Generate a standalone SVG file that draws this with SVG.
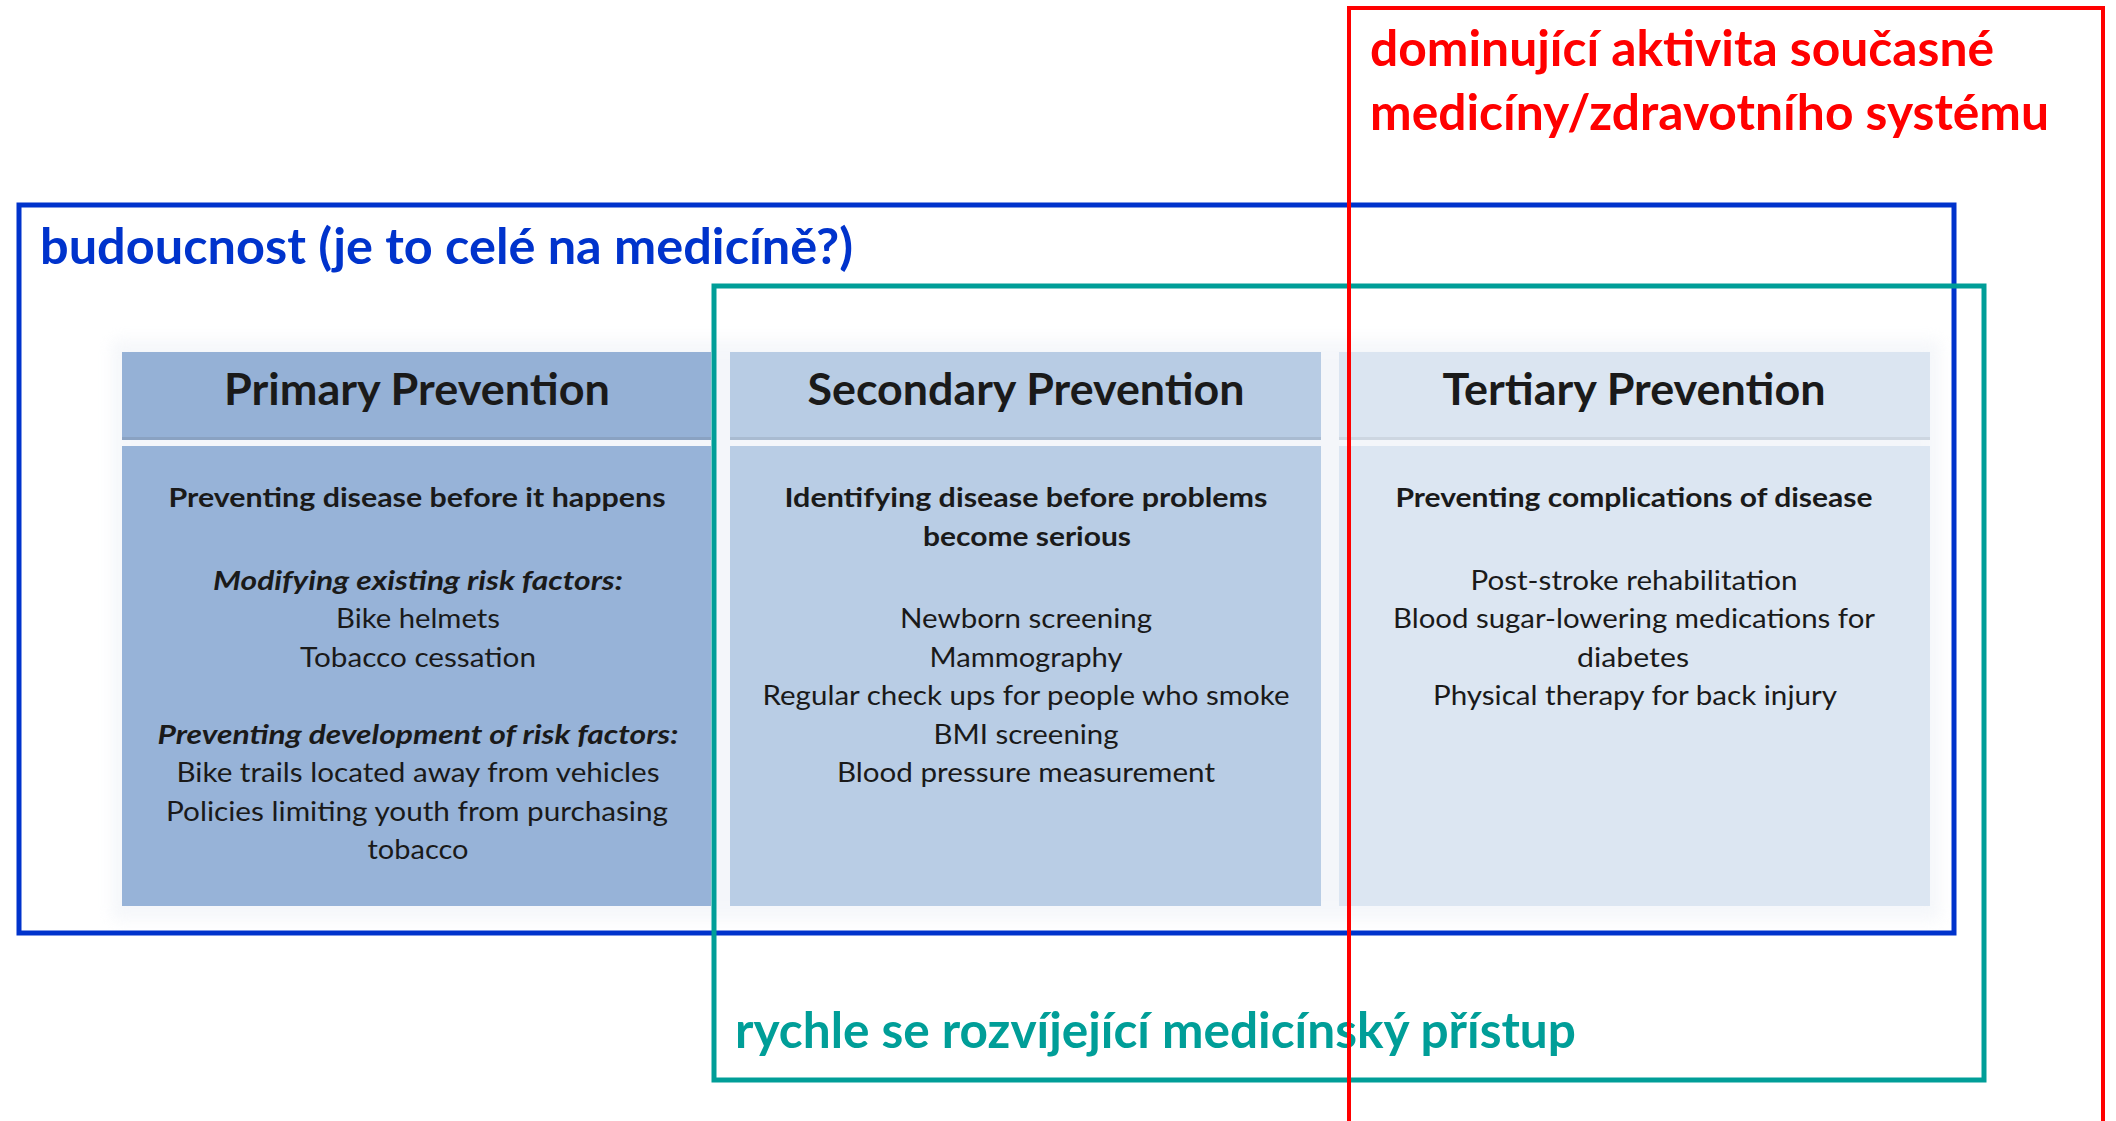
<svg xmlns="http://www.w3.org/2000/svg" width="2116" height="1121" viewBox="0 0 2116 1121">
<style>
  text { font-family: Lato, "Liberation Sans", "Noto Sans", sans-serif; text-anchor: middle; fill: #1a1a1a; }
  .hd { font-size: 44px; font-weight: bold; }
  .sb { font-size: 26px; font-weight: bold; }
  .bi { font-size: 26px; font-weight: bold; font-style: italic; }
  .tx { font-size: 27px; }
  .lab { font-size: 50px; font-weight: bold; text-anchor: start; }
  .frame { fill: none; }
</style>
<defs>
  <filter id="glow" x="-5%" y="-10%" width="110%" height="120%">
    <feGaussianBlur stdDeviation="8"/>
  </filter>
</defs>
<rect width="2116" height="1121" fill="#ffffff"/>

<!-- table backdrop -->
<rect x="112" y="340" width="1828" height="580" fill="#e8edf4" opacity="0.45" filter="url(#glow)"/>

<g id="col-primary">
  <rect x="122" y="352" width="589" height="87" fill="#95b1d6"/>
  <rect x="122" y="437" width="589" height="3" fill="#8aa2c2"/>
  <rect x="122" y="446" width="589" height="460" fill="#97b3d8"/>
  <text class="hd" x="417" y="405" textLength="386" lengthAdjust="spacingAndGlyphs">Primary Prevention</text>
  <text class="sb" x="417" y="507" textLength="497" lengthAdjust="spacingAndGlyphs">Preventing disease before it happens</text>
  <text class="bi" x="418" y="590" textLength="410" lengthAdjust="spacingAndGlyphs">Modifying existing risk factors:</text>
  <text class="tx" x="418" y="628" textLength="164" lengthAdjust="spacingAndGlyphs">Bike helmets</text>
  <text class="tx" x="418" y="667" textLength="236" lengthAdjust="spacingAndGlyphs">Tobacco cessation</text>
  <text class="bi" x="418" y="744" textLength="521" lengthAdjust="spacingAndGlyphs">Preventing development of risk factors:</text>
  <text class="tx" x="418" y="782" textLength="483" lengthAdjust="spacingAndGlyphs">Bike trails located away from vehicles</text>
  <text class="tx" x="417" y="821" textLength="502" lengthAdjust="spacingAndGlyphs">Policies limiting youth from purchasing</text>
  <text class="tx" x="418" y="859" textLength="101" lengthAdjust="spacingAndGlyphs">tobacco</text>
</g>

<g id="col-secondary">
  <rect x="730" y="352" width="591" height="87" fill="#b8cce4"/>
  <rect x="730" y="437" width="591" height="3" fill="#a9bbd1"/>
  <rect x="730" y="446" width="591" height="460" fill="#b9cde5"/>
  <text class="hd" x="1026" y="405" textLength="437" lengthAdjust="spacingAndGlyphs">Secondary Prevention</text>
  <text class="sb" x="1026" y="507" textLength="483" lengthAdjust="spacingAndGlyphs">Identifying disease before problems</text>
  <text class="sb" x="1027" y="546" textLength="208" lengthAdjust="spacingAndGlyphs">become serious</text>
  <text class="tx" x="1026" y="628" textLength="252" lengthAdjust="spacingAndGlyphs">Newborn screening</text>
  <text class="tx" x="1026" y="667" textLength="193" lengthAdjust="spacingAndGlyphs">Mammography</text>
  <text class="tx" x="1026" y="705" textLength="527" lengthAdjust="spacingAndGlyphs">Regular check ups for people who smoke</text>
  <text class="tx" x="1026" y="744" textLength="185" lengthAdjust="spacingAndGlyphs">BMI screening</text>
  <text class="tx" x="1026" y="782" textLength="378" lengthAdjust="spacingAndGlyphs">Blood pressure measurement</text>
</g>

<g id="col-tertiary">
  <rect x="1339" y="352" width="591" height="87" fill="#dbe5f1"/>
  <rect x="1339" y="437" width="591" height="3" fill="#cdd6e1"/>
  <rect x="1339" y="446" width="591" height="460" fill="#dce6f2"/>
  <text class="hd" x="1634" y="405" textLength="383" lengthAdjust="spacingAndGlyphs">Tertiary Prevention</text>
  <text class="sb" x="1634" y="507" textLength="477" lengthAdjust="spacingAndGlyphs">Preventing complications of disease</text>
  <text class="tx" x="1634" y="590" textLength="327" lengthAdjust="spacingAndGlyphs">Post-stroke rehabilitation</text>
  <text class="tx" x="1634" y="628" textLength="482" lengthAdjust="spacingAndGlyphs">Blood sugar-lowering medications for</text>
  <text class="tx" x="1633" y="667" textLength="112" lengthAdjust="spacingAndGlyphs">diabetes</text>
  <text class="tx" x="1635" y="705" textLength="404" lengthAdjust="spacingAndGlyphs">Physical therapy for back injury</text>
</g>

<g id="frame-future">
  <rect class="frame" x="19" y="205" width="1935" height="728" stroke="#0033cc" stroke-width="5"/>
  <text class="lab" x="40" y="264" style="fill:#0033cc" textLength="813" lengthAdjust="spacingAndGlyphs">budoucnost (je to celé na medicíně?)</text>
</g>

<g id="frame-developing">
  <rect class="frame" x="714" y="286" width="1270" height="794" stroke="#009e98" stroke-width="5"/>
  <text class="lab" x="735" y="1048" style="fill:#009e98" textLength="841" lengthAdjust="spacingAndGlyphs">rychle se rozvíjející medicínský přístup</text>
</g>

<g id="frame-dominant">
  <rect class="frame" x="1349" y="8" width="754" height="1130" stroke="#ff0000" stroke-width="4"/>
  <text class="lab" x="1370" y="66" style="fill:#ff0000" textLength="624" lengthAdjust="spacingAndGlyphs">dominující aktivita současné</text>
  <text class="lab" x="1370" y="130" style="fill:#ff0000" textLength="679" lengthAdjust="spacingAndGlyphs">medicíny/zdravotního systému</text>
</g>
</svg>
